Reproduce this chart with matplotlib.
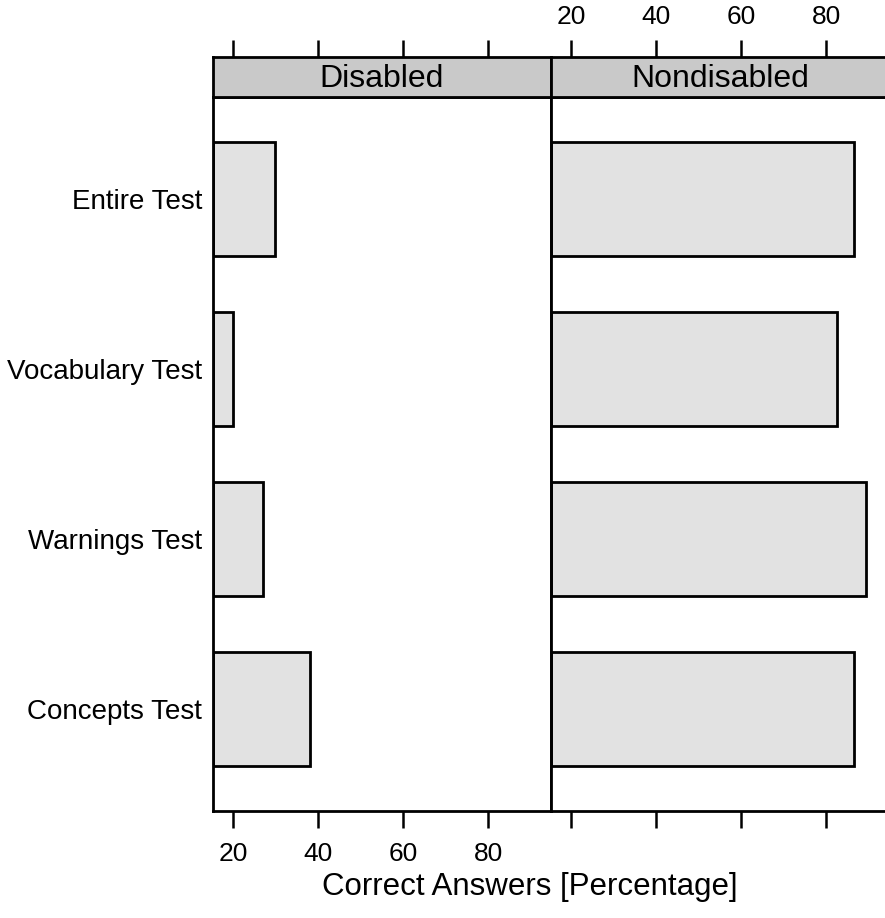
import matplotlib.pyplot as plt

plt.rcParams['font.family'] = ['Liberation Sans', 'DejaVu Sans']

# Data
tests = ['Entire Test', 'Vocabulary Test', 'Warnings Test', 'Concepts Test']
groups = ['Disabled', 'Nondisabled']
disabled = [30, 20, 27, 38]
nondisabled = [86.5, 82.5, 89.5, 86.5]
ticks = [20, 40, 60, 80]

values = {'Disabled': disabled, 'Nondisabled': nondisabled}

xmin, xmax = 15.3, 94.8
bar_fill = '#e2e2e2'
strip_fill = '#c9c9c9'
lw = 2.0

fig = plt.figure(figsize=(8.85, 9.18), dpi=100)

W, H = 885, 918
panel_l = [213, 551]
panel_w = 338
panel_top, panel_bot = 97, 811
strip_top = 57

ypos = list(range(len(tests), 0, -1))

for i, g in enumerate(groups):
    x0 = panel_l[i] / W
    ax = fig.add_axes([x0, 1 - panel_bot / H, panel_w / W, (panel_bot - panel_top) / H])
    ax.barh(ypos, [v - xmin for v in values[g]], left=xmin, height=2 / 3,
            color=bar_fill, edgecolor='black', linewidth=lw)
    ax.set_xlim(xmin, xmax)
    ax.set_ylim(0.4, len(tests) + 0.6)
    ax.set_xticks(ticks)
    ax.tick_params(axis='x', direction='out', length=12, width=1.8, pad=10,
                   labelsize=19, labelbottom=(i == 0))
    if i == 0:
        ax.set_yticks(ypos)
        ax.set_yticklabels(tests, fontsize=20)
        ax.tick_params(axis='y', length=0, pad=8)
    else:
        ax.set_yticks([])
    for s in ax.spines.values():
        s.set_linewidth(lw)

    # strip header
    sx = fig.add_axes([x0, 1 - panel_top / H, panel_w / W, (panel_top - strip_top) / H])
    sx.set_facecolor(strip_fill)
    sx.set_xlim(xmin, xmax)
    sx.set_ylim(0, 1)
    sx.set_yticks([])
    sx.set_xticks(ticks)
    sx.xaxis.set_ticks_position('top')
    sx.tick_params(axis='x', direction='out', length=12, width=1.8, pad=8,
                   labelsize=19, labeltop=(i == 1))
    sx.text(0.5, 0.45, g, transform=sx.transAxes, ha='center', va='center',
            fontsize=23)
    for s in sx.spines.values():
        s.set_linewidth(lw)

fig.text(530 / W, 1 - 895 / H, 'Correct Answers [Percentage]', ha='center',
         va='baseline', fontsize=22.5)

fig.savefig('out.png', dpi=100)
